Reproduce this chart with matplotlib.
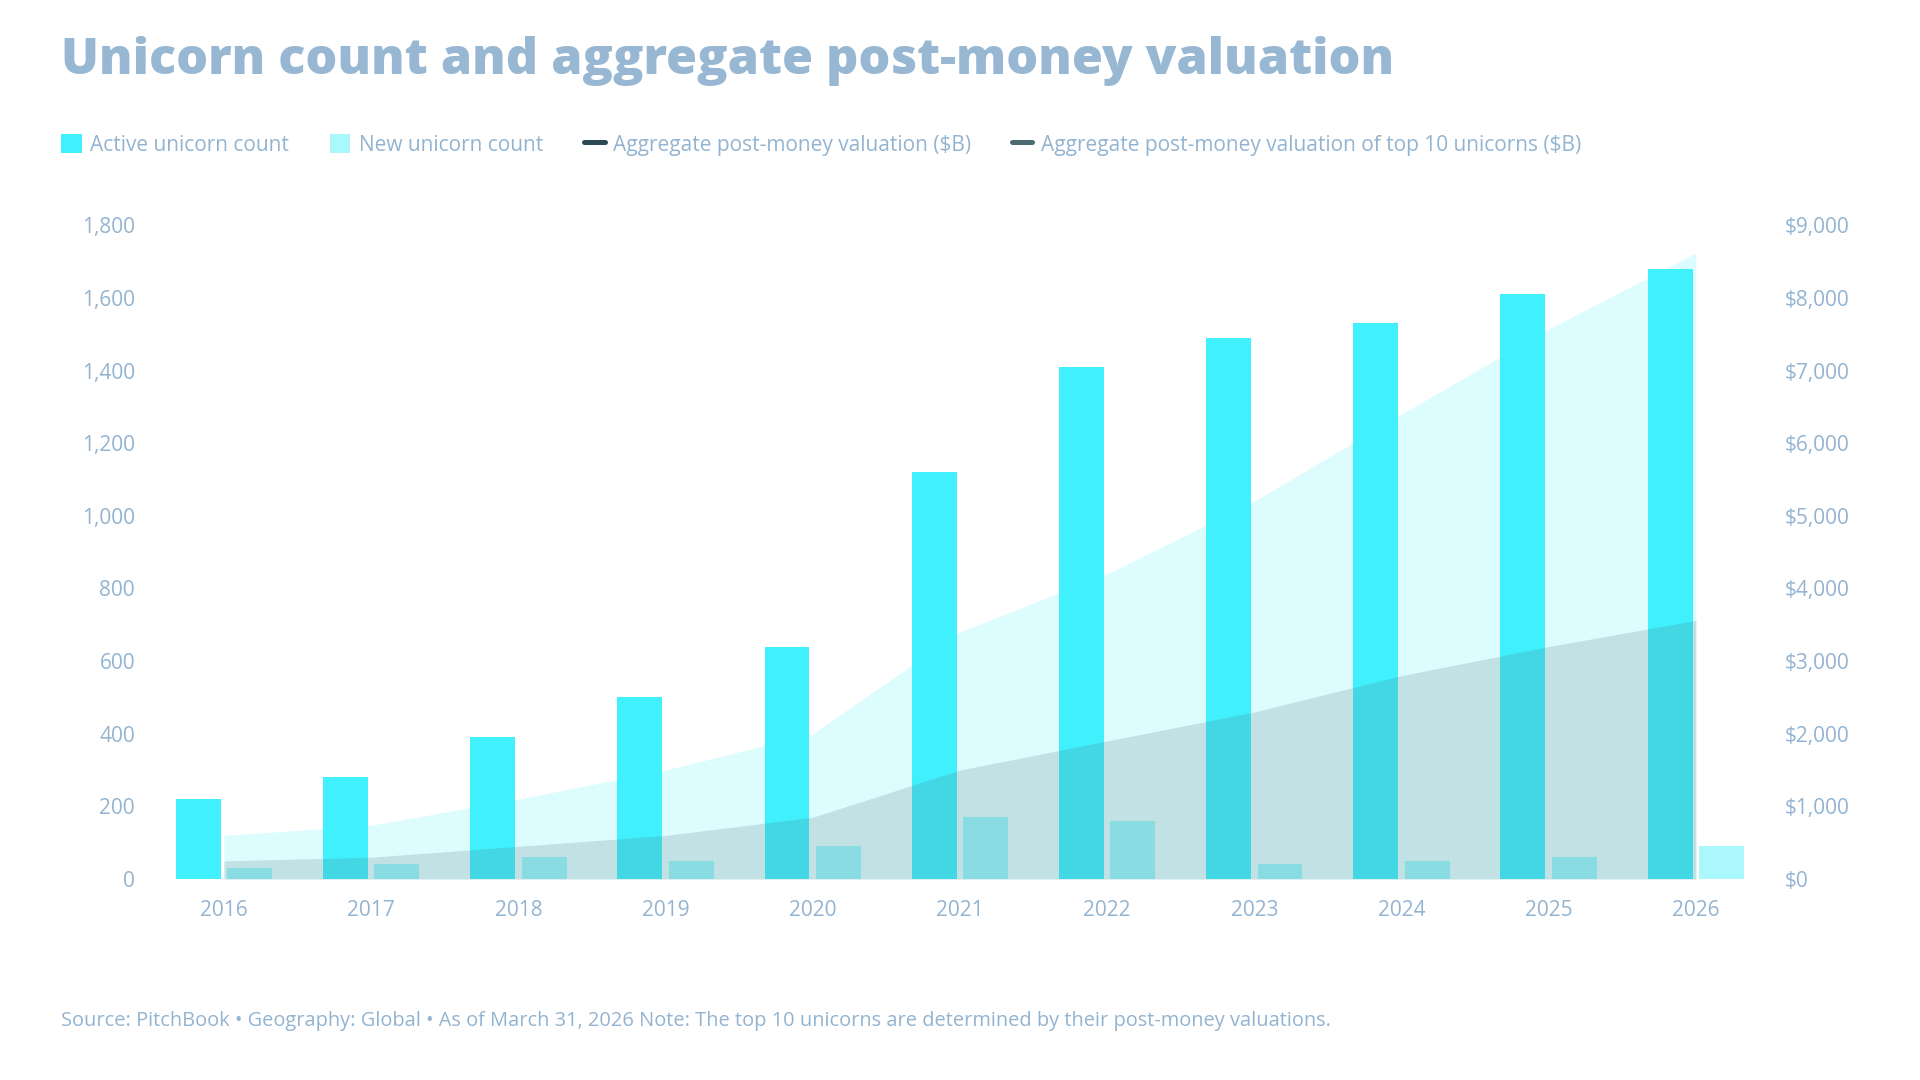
import numpy as np
import matplotlib
matplotlib.use("Agg")
import matplotlib.pyplot as plt
from matplotlib.patches import Patch
from matplotlib.lines import Line2D
from matplotlib.ticker import FuncFormatter

# data
years = ["2016", "2017", "2018", "2019", "2020", "2021", "2022", "2023", "2024", "2025", "2026"]
active_count = [220, 280, 390, 500, 640, 1120, 1410, 1490, 1530, 1610, 1680]
new_count = [30, 40, 60, 50, 90, 170, 160, 40, 50, 60, 90]
agg_valuation = [600, 740, 1100, 1500, 2000, 3400, 4200, 5200, 6400, 7570, 8620]
top10_valuation = [250, 300, 450, 600, 850, 1500, 1900, 2300, 2800, 3200, 3560]

TXT = "#93b4d1"
CYAN = "#40f0fc"
CYAN_LIGHT = "#aaf8fc"
DARK1 = "#2b4a54"
DARK2 = "#4b6a71"

plt.rcParams["font.family"] = ["Open Sans", "DejaVu Sans"]

fig = plt.figure(figsize=(19.2, 10.8), dpi=100)
ax = fig.add_axes([0.0783, 0.1861, 0.8433, 0.6053])
ax2 = ax.twinx()

x = np.arange(len(years))
w = 0.305
ax.bar(x - 0.175, active_count, width=w, color=CYAN, zorder=2)
ax.bar(x + 0.175, new_count, width=w, color=CYAN_LIGHT, zorder=2)

ax2.fill_between(x, 0, agg_valuation, color=CYAN, alpha=0.18, linewidth=0)
ax2.fill_between(x, 0, top10_valuation, color=DARK2, alpha=0.185, linewidth=0)

ax.set_xlim(-0.5, 10.5)
ax.set_ylim(0, 1800)
ax2.set_ylim(0, 9000)
ax.set_yticks(np.arange(0, 1801, 200))
ax2.set_yticks(np.arange(0, 9001, 1000))
ax.yaxis.set_major_formatter(FuncFormatter(lambda v, p: f"{v:,.0f}"))
ax2.yaxis.set_major_formatter(FuncFormatter(lambda v, p: f"${v:,.0f}"))
ax.set_xticks(x)
ax.set_xticklabels(years)

for a in (ax, ax2):
    for s in a.spines.values():
        s.set_visible(False)
    a.tick_params(length=0, labelcolor=TXT, labelsize=15)
ax.tick_params(axis="y", pad=11)
ax2.tick_params(axis="y", pad=11)
ax.tick_params(axis="x", pad=15)

fig.text(61 / 1920, 1 - 61.5 / 1080, "Unicorn count and aggregate post-money valuation",
         fontweight="extra bold", fontsize=36.2, color="#97b7d3",
         va="center", ha="left")

handles = [
    Patch(facecolor=CYAN, edgecolor="none"),
    Patch(facecolor=CYAN_LIGHT, edgecolor="none"),
    Line2D([0], [0], color=DARK1, lw=3.6, solid_capstyle="round"),
    Line2D([0], [0], color=DARK2, lw=3.6, solid_capstyle="round"),
]
labels = ["Active unicorn count", "New unicorn count",
          "Aggregate post-money valuation ($B)",
          "Aggregate post-money valuation of top 10 unicorns ($B)"]
leg = fig.legend(handles, labels, loc="center left", bbox_to_anchor=(61 / 1920, 1 - 145 / 1080),
                 ncol=4, frameon=False, fontsize=15, handlelength=1.0, handleheight=1.0,
                 handletextpad=0.4, columnspacing=1.95, borderpad=0, borderaxespad=0)
for t in leg.get_texts():
    t.set_color(TXT)

fig.text(61 / 1920, 1 - 1021 / 1080,
         "Source: PitchBook \u2022 Geography: Global \u2022 As of March 31, 2026 Note: The top 10 unicorns are determined by their post-money valuations.",
         fontsize=14.4, color=TXT, va="center", ha="left")

fig.savefig("out.png", dpi=100, facecolor="white")
